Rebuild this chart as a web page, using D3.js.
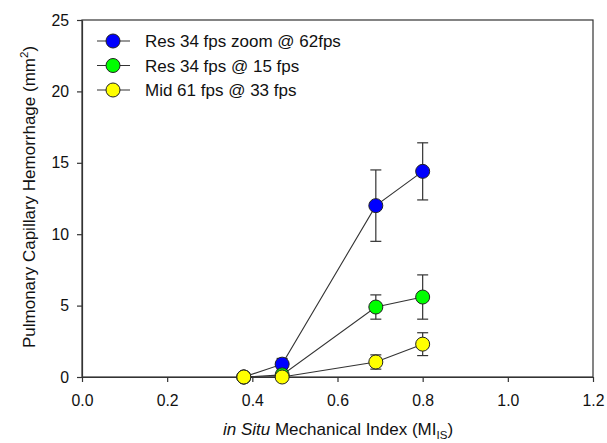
<!DOCTYPE html>
<html>
<head>
<meta charset="utf-8">
<script src="https://cdnjs.cloudflare.com/ajax/libs/d3/7.8.5/d3.min.js"></script>
<style>
  body { margin: 0; background: #fff; }
  svg { font-family: Arial, "Liberation Sans", sans-serif; }
</style>
</head>
<body>
<svg id="chart"></svg>
<script>
const width = 607;
const height = 443;

// data
const seriesNames = ["Res 34 fps zoom @ 62fps", "Res 34 fps @ 15 fps", "Mid 61 fps @ 33 fps"];
const seriesColors = ["#0000ff", "#00ff00", "#ffff00"];
const miValues = [0.38, 0.47, 0.69, 0.80];
const blueMean = [0, 0.9, 12.0, 14.4];
const blueErr = [0, 0.4, 2.5, 2.0];
const greenMean = [0, 0.15, 4.9, 5.6];
const greenErr = [0, 0.1, 0.85, 1.55];
const yellowMean = [0, 0, 1.05, 2.3];
const yellowErr = [0, 0, 0.5, 0.8];
const xTicks = [0, 0.2, 0.4, 0.6, 0.8, 1.0, 1.2];
const yTicks = [0, 5, 10, 15, 20, 25];

const series = [
    {name: seriesNames[0], color: seriesColors[0], mean: blueMean, err: blueErr},
    {name: seriesNames[1], color: seriesColors[1], mean: greenMean, err: greenErr},
    {name: seriesNames[2], color: seriesColors[2], mean: yellowMean, err: yellowErr}
];

const svg = d3.select("#chart")
    .attr("width", width)
    .attr("height", height);

// scales
const xScale = d3.scaleLinear().domain([0, 1.2]).range([82, 593]);
const yScale = d3.scaleLinear().domain([0, 25]).range([377, 20]);

// frame (top + right)
svg.append("rect")
    .attr("x", xScale(0))
    .attr("y", yScale(25))
    .attr("width", xScale(1.2) - xScale(0))
    .attr("height", yScale(0) - yScale(25))
    .attr("fill", "none")
    .attr("stroke", "#333")
    .attr("stroke-width", 1.2);

// axes
const xAxis = d3.axisBottom(xScale)
    .tickValues(xTicks)
    .tickFormat(d3.format(".1f"))
    .tickSize(5)
    .tickSizeOuter(0)
    .tickPadding(13);
svg.append("g")
    .attr("class", "x-axis")
    .attr("transform", "translate(0," + yScale(0) + ")")
    .call(xAxis);

const yAxis = d3.axisLeft(yScale)
    .tickValues(yTicks)
    .tickSize(5)
    .tickSizeOuter(0)
    .tickPadding(8);
svg.append("g")
    .attr("class", "y-axis")
    .attr("transform", "translate(" + xScale(0) + ",0)")
    .call(yAxis);

svg.selectAll(".x-axis, .y-axis")
    .selectAll("path, line")
    .attr("stroke", "#333")
    .attr("stroke-width", 1.2);
svg.selectAll(".x-axis text, .y-axis text")
    .attr("font-size", "15.8px")
    .attr("font-family", "Arial, 'Liberation Sans', sans-serif")
    .attr("fill", "#111");

// axis labels
const xLabel = svg.append("text")
    .attr("text-anchor", "middle")
    .attr("x", 338)
    .attr("y", 435)
    .attr("font-size", "17px")
    .attr("fill", "#111");
xLabel.append("tspan").attr("font-style", "italic").text("in Situ");
xLabel.append("tspan").text(" Mechanical Index (MI");
xLabel.append("tspan").attr("font-size", "11.5px").attr("dy", 4).text("IS");
xLabel.append("tspan").attr("dy", -4).text(")");

const yLabel = svg.append("text")
    .attr("text-anchor", "middle")
    .attr("transform", "rotate(-90)")
    .attr("x", -197)
    .attr("y", 35)
    .attr("font-size", "17px")
    .attr("fill", "#111");
yLabel.append("tspan").text("Pulmonary Capillary Hemorrhage (mm");
yLabel.append("tspan").attr("font-size", "11.5px").attr("dy", -7).text("2");
yLabel.append("tspan").attr("dy", 7).text(")");

// plot data
const line = d3.line()
    .x((d, i) => xScale(miValues[i]))
    .y(d => yScale(d));

series.forEach(s => {
    const g = svg.append("g");
    g.append("path")
        .datum(s.mean)
        .attr("d", line)
        .attr("fill", "none")
        .attr("stroke", "#333")
        .attr("stroke-width", 1.1);

    const pts = s.mean.map((m, i) => ({x: miValues[i], y: m, e: s.err[i]}));
    const eb = g.selectAll("g.err")
        .data(pts.filter(d => d.e > 0))
        .join("g")
        .attr("class", "err")
        .attr("stroke", "#333")
        .attr("stroke-width", 1.2);
    eb.append("line")
        .attr("x1", d => xScale(d.x)).attr("x2", d => xScale(d.x))
        .attr("y1", d => yScale(d.y - d.e)).attr("y2", d => yScale(d.y + d.e));
    eb.append("line")
        .attr("x1", d => xScale(d.x) - 5.5).attr("x2", d => xScale(d.x) + 5.5)
        .attr("y1", d => yScale(d.y + d.e)).attr("y2", d => yScale(d.y + d.e));
    eb.append("line")
        .attr("x1", d => xScale(d.x) - 5.5).attr("x2", d => xScale(d.x) + 5.5)
        .attr("y1", d => yScale(d.y - d.e)).attr("y2", d => yScale(d.y - d.e));
});

series.forEach(s => {
    const pts = s.mean.map((m, i) => ({x: miValues[i], y: m}));
    svg.append("g").selectAll("circle")
        .data(pts)
        .join("circle")
        .attr("cx", d => xScale(d.x))
        .attr("cy", d => yScale(d.y))
        .attr("r", 7)
        .attr("fill", s.color)
        .attr("stroke", "#222")
        .attr("stroke-width", 1);
});

// legend
const legend = svg.append("g").attr("class", "legend");
const rows = legend.selectAll("g")
    .data(series)
    .join("g")
    .attr("transform", (d, i) => "translate(0," + (41 + i * 24.5) + ")");
rows.append("line")
    .attr("x1", 97).attr("x2", 130)
    .attr("stroke", "#333").attr("stroke-width", 1.1);
rows.append("circle")
    .attr("cx", 113).attr("r", 7)
    .attr("fill", d => d.color)
    .attr("stroke", "#222").attr("stroke-width", 1);
rows.append("text")
    .attr("x", 145)
    .attr("dy", "0.36em")
    .attr("font-size", "17px")
    .attr("fill", "#111")
    .text(d => d.name);
</script>
</body>
</html>
